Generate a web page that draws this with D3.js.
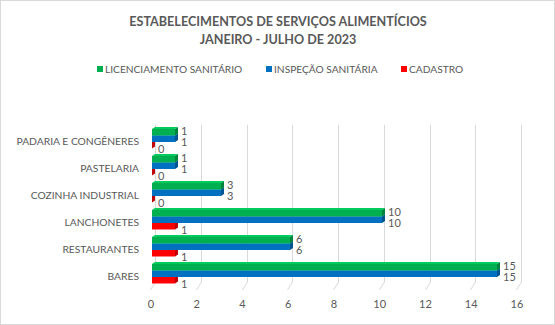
<!DOCTYPE html>
<html>
<head>
<meta charset="utf-8">
<script src="https://cdn.jsdelivr.net/npm/d3@7"></script>
<style>
  body { margin: 0; background: #fff; }
  svg text { font-family: Lato, "Open Sans", sans-serif; fill: #595959; }
</style>
</head>
<body>
<svg id="chart" width="555" height="325"></svg>
<script>
// data
var categories = ["PADARIA E CONGÊNERES", "PASTELARIA", "COZINHA INDUSTRIAL", "LANCHONETES", "RESTAURANTES", "BARES"];
var licenciamento = [1, 1, 3, 10, 6, 15];
var inspecao = [1, 1, 3, 10, 6, 15];
var cadastro = [0, 0, 0, 1, 1, 1];
var xTicks = [0, 2, 4, 6, 8, 10, 12, 14, 16];

var seriesNames = ["LICENCIAMENTO SANITÁRIO", "INSPEÇÃO SANITÁRIA", "CADASTRO"];
var seriesValues = [licenciamento, inspecao, cadastro];
var colors = ["#00B050", "#0070C0", "#FF0000"];

var svg = d3.select("#chart");

// border
svg.append("rect")
    .attr("x", 0.5).attr("y", 0.5)
    .attr("width", 554).attr("height", 324)
    .attr("fill", "#fff")
    .attr("stroke", "#d9d9d9");

// title
svg.append("text")
    .attr("x", 278).attr("y", 26)
    .attr("text-anchor", "middle")
    .attr("font-size", 12.6)
    .attr("font-weight", "bold")
    .text("ESTABELECIMENTOS DE SERVIÇOS ALIMENTÍCIOS");
svg.append("text")
    .attr("x", 278).attr("y", 44)
    .attr("text-anchor", "middle")
    .attr("font-size", 12.6)
    .attr("font-weight", "bold")
    .text("JANEIRO - JULHO DE 2023");

// legend
var legendX = [97, 266, 401];
var legend = svg.selectAll("g.legend")
    .data(seriesNames)
    .enter().append("g")
    .attr("class", "legend")
    .attr("transform", function(d, i){ return "translate(" + legendX[i] + ",66)"; });
legend.append("rect")
    .attr("width", 6).attr("height", 6)
    .attr("fill", function(d, i){ return colors[i]; });
legend.append("text")
    .attr("x", 8).attr("y", 6.5)
    .attr("font-size", 10.2)
    .text(function(d){ return d; });

// scales
var xBar = d3.scaleLinear().domain([0, 16]).range([152, 520]);
var xGrid = d3.scaleLinear().domain([0, 16]).range([155, 521]);
var xFront = d3.scaleLinear().domain([0, 16]).range([151, 517]);
var y = d3.scaleBand().domain(categories).range([125.25, 287.25]).paddingInner(0.278).paddingOuter(0.139);
var ySub = d3.scaleBand().domain([0, 1, 2]).range([0, y.bandwidth()]);

// gridlines (back wall + floor)
var grid = svg.append("g");
grid.selectAll("path.grid")
    .data(xTicks)
    .enter().append("path")
    .attr("class", "grid")
    .attr("fill", "none")
    .attr("stroke", "#d9d9d9")
    .attr("d", function(d){
        var gx = Math.round(xGrid(d)) + 0.5;
        return "M" + gx + ",125V282L" + (gx - 5) + ",290";
    });

// axis labels
svg.selectAll("text.tick")
    .data(xTicks)
    .enter().append("text")
    .attr("class", "tick")
    .attr("x", function(d){ return xFront(d); })
    .attr("y", 308)
    .attr("text-anchor", "middle")
    .attr("font-size", 11)
    .text(function(d){ return d; });

svg.selectAll("text.cat")
    .data(categories)
    .enter().append("text")
    .attr("class", "cat")
    .attr("x", 139)
    .attr("y", function(d){ return y(d) + y.bandwidth() / 2 + 6; })
    .attr("text-anchor", "end")
    .attr("font-size", 10.3)
    .text(function(d){ return d; });

// bars, drawn bottom series first so upper bars cover the top faces
var depth = 3, lift = 2;
var shadeTop = [d3.color(colors[0]).brighter(0.4), d3.color(colors[1]).brighter(0.4), d3.color(colors[2]).brighter(0.3)];
var shadeSide = [d3.color(colors[0]).darker(0.8), d3.color(colors[1]).darker(0.8), d3.color(colors[2]).darker(0.8)];
var labelDy = [-1.5, 3.5, 4];

[2, 1, 0].forEach(function(s){
    var rows = categories.map(function(c, i){ return {cat: c, value: seriesValues[s][i]}; });
    var g = svg.append("g").attr("class", "series" + s);
    var bars = g.selectAll("g.bar").data(rows).enter().append("g").attr("class", "bar");
    bars.append("path")
        .attr("fill", shadeSide[s])
        .attr("d", function(d){
            var x1 = xBar(d.value), y0 = y(d.cat) + ySub(s), h = ySub.bandwidth();
            return "M" + x1 + "," + y0 + "L" + (x1 + depth) + "," + (y0 - lift) +
                "L" + (x1 + depth) + "," + (y0 + h - lift) + "L" + x1 + "," + (y0 + h) + "Z";
        });
    bars.append("path")
        .attr("fill", shadeTop[s])
        .attr("d", function(d){
            var x0 = xBar(0), x1 = xBar(d.value), y0 = y(d.cat) + ySub(s);
            return "M" + x0 + "," + y0 + "L" + (x0 + depth) + "," + (y0 - lift) +
                "L" + (x1 + depth) + "," + (y0 - lift) + "L" + x1 + "," + y0 + "Z";
        });
    bars.append("rect")
        .attr("x", xBar(0))
        .attr("y", function(d){ return y(d.cat) + ySub(s); })
        .attr("width", function(d){ return xBar(d.value) - xBar(0); })
        .attr("height", ySub.bandwidth())
        .attr("fill", colors[s]);
});

// data labels
[0, 1, 2].forEach(function(s){
    svg.selectAll("text.lbl" + s)
        .data(categories)
        .enter().append("text")
        .attr("class", "lbl" + s)
        .attr("x", function(d, i){ return xBar(seriesValues[s][i]) + depth + 3; })
        .attr("y", function(d){ return y(d) + ySub(s) + ySub.bandwidth() / 2 + labelDy[s] + 4; })
        .attr("font-size", 11)
        .text(function(d, i){ return seriesValues[s][i]; });
});
</script>
</body>
</html>
